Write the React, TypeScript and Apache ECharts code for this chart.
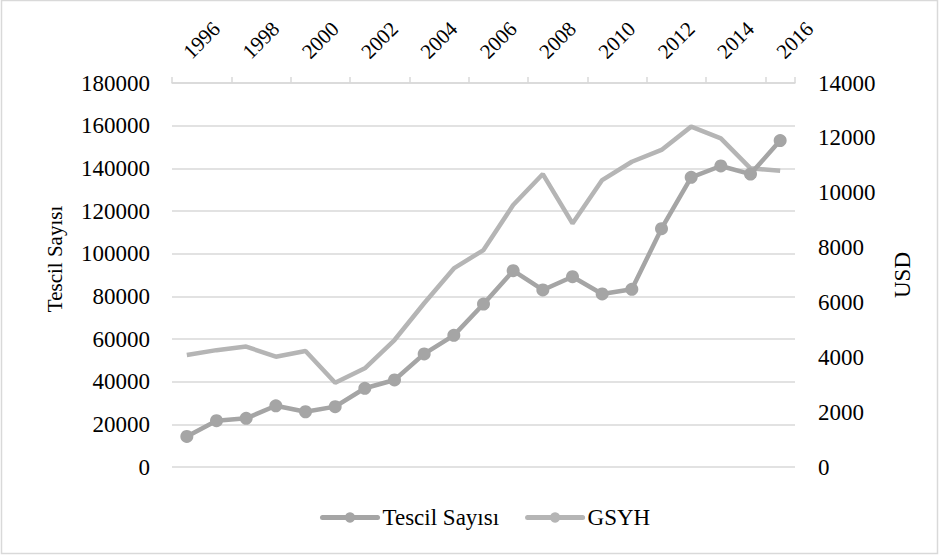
import React, { useEffect, useRef } from "react";
import * as echarts from "echarts";

const years = ["1996","1997","1998","1999","2000","2001","2002","2003","2004","2005","2006","2007","2008","2009","2010","2011","2012","2013","2014","2015","2016"];
const tescilSayisi = [14300, 21700, 22800, 28700, 25900, 28300, 36900, 40800, 53000, 61700, 76400, 92000, 83000, 89200, 81100, 83300, 111700, 135800, 141100, 137300, 153000];
const gsyh = [4080, 4260, 4390, 4020, 4230, 3070, 3600, 4630, 5970, 7240, 7910, 9550, 10680, 8880, 10460, 11130, 11560, 12410, 11980, 10890, 10800];

const FONT = "'Liberation Serif', 'Times New Roman', serif";

export default function App() {
  const ref = useRef<HTMLDivElement>(null);
  useEffect(() => {
    if (!ref.current) return;
    const chart = echarts.init(ref.current, null, { renderer: "svg" });
    chart.setOption({
      animation: false,
      backgroundColor: "#ffffff",
      textStyle: { fontFamily: FONT, color: "#000" },
      grid: { left: 172, right: 144, top: 83, bottom: 88, containLabel: false },
      legend: {
        left: 315,
        top: 501,
        itemWidth: 55,
        itemHeight: 13,
        itemGap: 26,
        lineStyle: { width: 5, cap: "round" },
        textStyle: { fontFamily: FONT, fontSize: 23, color: "#000" },
        data: ["Tescil Sayısı", "GSYH"],
      },
      xAxis: {
        type: "category",
        position: "top",
        data: years,
        boundaryGap: true,
        axisLine: { show: true, onZero: false, lineStyle: { color: "#d9d9d9", width: 1.5 } },
        axisTick: { show: true, interval: 1, length: 6, inside: false, lineStyle: { color: "#d9d9d9", width: 1.5 } },
        axisLabel: { interval: 1, rotate: -45, margin: 28, fontFamily: FONT, fontSize: 21, color: "#000" },
        splitLine: { show: false },
      },
      yAxis: [
        {
          type: "value",
          min: 0,
          max: 180000,
          interval: 20000,
          position: "left",
          axisLine: { show: false },
          axisTick: { show: false },
          axisLabel: { margin: 22, fontFamily: FONT, fontSize: 23, color: "#000", formatter: (v: number) => String(v) },
          splitLine: { show: true, lineStyle: { color: "#d9d9d9", width: 1.5 } },
        },
        {
          type: "value",
          min: 0,
          max: 14000,
          interval: 2000,
          position: "right",
          axisLine: { show: false },
          axisTick: { show: false },
          axisLabel: { margin: 23, fontFamily: FONT, fontSize: 23, color: "#000", formatter: (v: number) => String(v) },
          splitLine: { show: false },
        },
      ],
      graphic: [
        {
          type: "rect",
          shape: { x: 1.5, y: 0.5, width: 936, height: 553 },
          style: { fill: "none", stroke: "#d9d9d9", lineWidth: 1.5 },
          silent: true,
          z: -1,
        },
        {
          type: "text",
          x: 55,
          y: 259,
          rotation: Math.PI / 2,
          style: { text: "Tescil Sayısı", font: `21px ${FONT}`, fill: "#000", align: "center", verticalAlign: "middle" },
        },
        {
          type: "text",
          x: 902,
          y: 275,
          rotation: Math.PI / 2,
          style: { text: "USD", font: `23px ${FONT}`, fill: "#000", align: "center", verticalAlign: "middle" },
        },
      ],
      series: [
        {
          name: "Tescil Sayısı",
          type: "line",
          yAxisIndex: 0,
          data: tescilSayisi,
          symbol: "circle",
          symbolSize: 13,
          showSymbol: true,
          lineStyle: { color: "#a5a5a5", width: 4.5 },
          itemStyle: { color: "#a5a5a5" },
          z: 3,
        },
        {
          name: "GSYH",
          type: "line",
          yAxisIndex: 1,
          data: gsyh,
          symbol: "none",
          showSymbol: false,
          lineStyle: { color: "#b5b5b5", width: 4.5 },
          itemStyle: { color: "#b5b5b5" },
          z: 2,
        },
      ],
    });
    return () => chart.dispose();
  }, []);
  return <div ref={ref} style={{ position: "fixed", left: 0, top: 0, width: 939, height: 555 }} />;
}
